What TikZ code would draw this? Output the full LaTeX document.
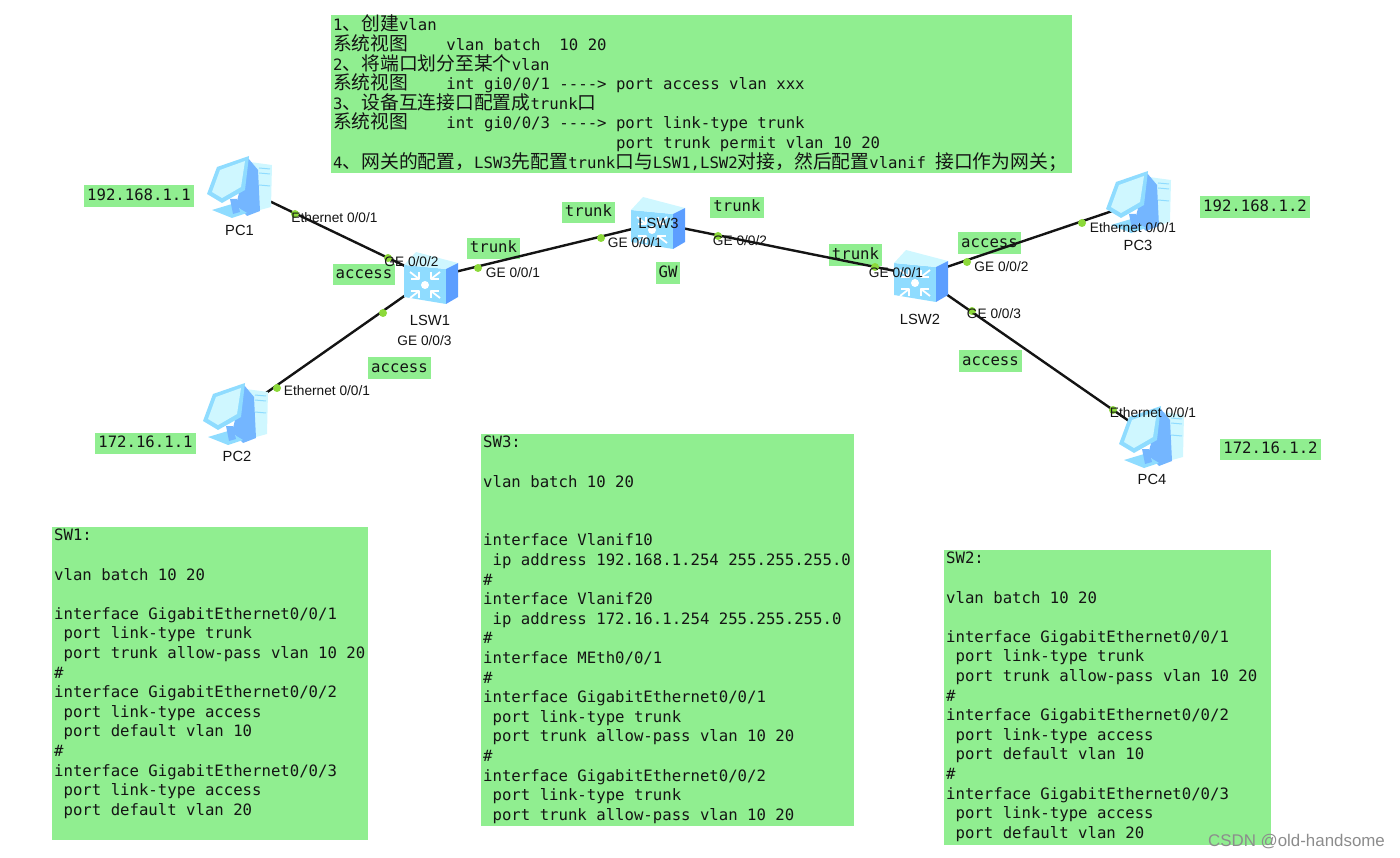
\documentclass[tikz,border=0pt]{standalone}
\usepackage{fontspec}
\setmainfont{Liberation Sans}
\newfontfamily\code{DejaVu Sans Mono}
\newfontfamily\cjk[Scale=1.2]{Noto Sans CJK SC}
\newcommand{\Unit}{1pt}
\newcommand{\Zh}[1]{{\cjk #1}}
\newcommand{\Ind}{\hspace*{9.43pt}}
\newcommand{\Skip}{19.6pt}
\newcommand{\CfgFont}{\code\fontsize{15.66}{19.6}\selectfont\lineskiplimit=-100pt\relax}
\definecolor{tagfill}{HTML}{90EE90}
\definecolor{ink}{HTML}{141414}
\definecolor{port}{HTML}{8CD93A}
\definecolor{pale}{HTML}{CFF7FF}
\definecolor{sky}{HTML}{8FDCFF}
\definecolor{mid}{HTML}{74B6FF}
\definecolor{deep}{HTML}{5C9EFF}
\tikzset{
  devnode/.style={inner sep=0pt,minimum size=0pt},
  greentag/.style={fill=tagfill,inner xsep=3pt,inner ysep=3.5pt,text height=11.5pt,text depth=3pt,text=ink,font=\CfgFont},
  cfgbox/.style={fill=tagfill,anchor=north west,inner xsep=2pt,inner ysep=0pt,text=ink,font=\CfgFont},
  portlabel/.style={inner sep=0pt,text=ink,font=\fontsize{13.7}{16}\selectfont},
  devlabel/.style={inner sep=0pt,text=ink,font=\fontsize{14.7}{17}\selectfont},
  link/.style={draw=ink,line width=2.4pt},
  pcicon/.pic={
    \fill[pale] (10,-25) -- (32,-22) -- (31,20) -- (9,26) -- cycle;
    \draw[sky,line width=1pt] (19,-19) -- (30,-18) (19,-14) -- (30,-13) (19,-2) -- (30,-1);
    \fill[mid] (8,-29) -- (18,-17) -- (20,24) -- (7,29) -- (-4,18) -- cycle;
    \fill[sky] (-28,23) -- (-8,17) -- (7,26) -- (-8,31) -- cycle;
    \fill[mid] (-10,12) -- (-3,12) -- (0,25) -- (-7,27) -- cycle;
    \fill[sky] (-33,7) -- (-23,-20) -- (9,-31) -- (5,3) -- (-18,16) -- cycle;
    \fill[pale] (-28,5) -- (-20,-17) -- (5,-26) -- (1,0) -- (-18,11) -- cycle;
  },
  swicon/.pic={
    \fill[sky] (-26,-13) -- (16,-9) -- (16,26) -- (-26,19) -- cycle;
    \fill[pale] (-26,-13) -- (-14,-26) -- (28,-15) -- (16,-9) -- cycle;
    \fill[deep] (16,-9) -- (28,-15) -- (28,19) -- (16,26) -- cycle;
    \fill[white] (-5,7) circle (4);
    \foreach \dx/\dy in {1/1,1/-1,-1/1,-1/-1} {
      \draw[white,line width=1.8pt] ({-5+6*\dx},{7+6*\dy}) -- ({-5+15*\dx},{7+13*\dy});
      \draw[white,line width=1.8pt] ({-5+6*\dx},{7+13*\dy}) -- ({-5+6*\dx},{7+6*\dy}) -- ({-5+14*\dx},{7+6*\dy});
    }
  },
}

\begin{document}
\begin{tikzpicture}[x=\Unit,y=-\Unit, line join=round]
  \useasboundingbox (0,0) rectangle (1400,858);

  % ---- the notes --------------------------------------------------------
  \node[cfgbox] (notes) at (331,15) {\parbox[c][158pt][t]{737pt}{\raggedright%
    1\Zh{、创建}vlan\\
    \Zh{系统视图}\hspace*{38pt}vlan batch~~10 20\\
    2\Zh{、将端口划分至某个}vlan\\
    \Zh{系统视图}\hspace*{38pt}int gi0/0/1 ----> port access vlan xxx\\
    3\Zh{、设备互连接口配置成}trunk\Zh{口}\\
    \Zh{系统视图}\hspace*{38pt}int gi0/0/3 ----> port link-type trunk\\
    \hspace*{283pt}port trunk permit vlan 10 20\\
    4\Zh{、网关的配置，}LSW3\Zh{先配置}trunk\Zh{口与}LSW1,LSW2\Zh{对接，然后配置}vlanif \Zh{接口作为网关；}}};

  \node[cfgbox] (SW1) at (52,527) {\parbox[c][313pt][t]{312pt}{\raggedright\vspace*{2pt}%
    SW1:\\[\Skip]
    vlan batch 10 20\\[\Skip]
    interface GigabitEthernet0/0/1\\
    \Ind port link-type trunk\\
    \Ind port trunk allow-pass vlan 10 20\\
    \#\\
    interface GigabitEthernet0/0/2\\
    \Ind port link-type access\\
    \Ind port default vlan 10\\
    \#\\
    interface GigabitEthernet0/0/3\\
    \Ind port link-type access\\
    \Ind port default vlan 20}};

  \node[cfgbox] (SW3) at (481,434) {\parbox[c][392pt][t]{369pt}{\raggedright\vspace*{2pt}%
    SW3:\\[\Skip]
    vlan batch 10 20\\[\Skip]
    \mbox{}\\
    interface Vlanif10\\
    \Ind ip address 192.168.1.254 255.255.255.0\\
    \#\\
    interface Vlanif20\\
    \Ind ip address 172.16.1.254 255.255.255.0\\
    \#\\
    interface MEth0/0/1\\
    \#\\
    interface GigabitEthernet0/0/1\\
    \Ind port link-type trunk\\
    \Ind port trunk allow-pass vlan 10 20\\
    \#\\
    interface GigabitEthernet0/0/2\\
    \Ind port link-type trunk\\
    \Ind port trunk allow-pass vlan 10 20}};

  \node[cfgbox] (SW2) at (944,550) {\parbox[c][295pt][t]{323pt}{\raggedright\vspace*{2pt}%
    SW2:\\[\Skip]
    vlan batch 10 20\\[\Skip]
    interface GigabitEthernet0/0/1\\
    \Ind port link-type trunk\\
    \Ind port trunk allow-pass vlan 10 20\\
    \#\\
    interface GigabitEthernet0/0/2\\
    \Ind port link-type access\\
    \Ind port default vlan 10\\
    \#\\
    interface GigabitEthernet0/0/3\\
    \Ind port link-type access\\
    \Ind port default vlan 20}};

  % ---- the green tags, the links run over them ---------------------------
  \node[greentag] (ipPC1) at (139,196) {192.168.1.1};
  \node[greentag] (ipPC2) at (145.5,443.5) {172.16.1.1};
  \node[greentag] (ipPC3) at (1255,207) {192.168.1.2};
  \node[greentag] (ipPC4) at (1270.5,449.5) {172.16.1.2};
  \node[greentag] (tagA) at (364,274.5) {access};
  \node[greentag] (tagB) at (399.5,368) {access};
  \node[greentag] (tagC) at (989.5,243) {access};
  \node[greentag] (tagD) at (990.5,361) {access};
  \node[greentag] (tagE) at (493.5,248.5) {trunk};
  \node[greentag] (tagF) at (588.5,212.5) {trunk};
  \node[greentag] (tagG) at (737,207.5) {trunk};
  \node[greentag] (tagH) at (855.5,255) {trunk};
  \node[greentag] (tagGW) at (668,273) {GW};

  % ---- the devices and the links -----------------------------------------
  \foreach \name/\x/\y in {PC1/240/187,PC2/236/414,PC3/1139/202,PC4/1152/437,LSW1/430/278,LSW3/657/223,LSW2/920/276}
    \node[devnode] (\name) at (\x,\y) {};

  \draw[link] (PC1) -- (LSW1);
  \draw[link] (PC2) -- (LSW1);
  \draw[link] (LSW1) -- (LSW3);
  \draw[link] (LSW3) -- (LSW2);
  \draw[link] (LSW2) -- (PC3);
  \draw[link] (LSW2) -- (PC4);

  \foreach \name in {PC1,PC2,PC3,PC4}
    \pic at (\name) {pcicon};
  \foreach \name in {LSW1,LSW2,LSW3}
    \pic at (\name) {swicon};

  % ---- the port dots -----------------------------------------------------
  \foreach \x/\y in {295/214,388/258,478/268,383/313,277/388,601/238,718/236,875/267,967/262,1082/223,972/311,1113/410}
    \fill[port] (\x,\y) circle (4);

  % ---- the names ---------------------------------------------------------
  \node[devlabel] (namePC1) at (239.5,230) {PC1};
  \node[devlabel] (namePC2) at (237,456) {PC2};
  \node[devlabel] (namePC3) at (1138,245) {PC3};
  \node[devlabel] (namePC4) at (1152,479) {PC4};
  \node[devlabel] (nameLSW1) at (430,320) {LSW1};
  \node[devlabel] (nameLSW2) at (920,319) {LSW2};
  \node[devlabel] (nameLSW3) at (658.5,223) {LSW3};

  \node[portlabel] (portA) at (334.5,218) {Ethernet 0/0/1};
  \node[portlabel] (portB) at (327,391) {Ethernet 0/0/1};
  \node[portlabel] (portC) at (1133,228) {Ethernet 0/0/1};
  \node[portlabel] (portD) at (1153,413) {Ethernet 0/0/1};
  \node[portlabel] (portE) at (411.5,262) {GE 0/0/2};
  \node[portlabel] (portF) at (513,273) {GE 0/0/1};
  \node[portlabel] (portG) at (424.5,341) {GE 0/0/3};
  \node[portlabel] (portH) at (635,243) {GE 0/0/1};
  \node[portlabel] (portI) at (740,241) {GE 0/0/2};
  \node[portlabel] (portJ) at (896,273) {GE 0/0/1};
  \node[portlabel] (portK) at (1001.5,267) {GE 0/0/2};
  \node[portlabel] (portL) at (994,314) {GE 0/0/3};

  \node[inner sep=0pt,text=black!45,font=\fontsize{16.9}{20}\selectfont] (mark) at (1296.5,842) {CSDN @old-handsome};

\end{tikzpicture}
\end{document}
